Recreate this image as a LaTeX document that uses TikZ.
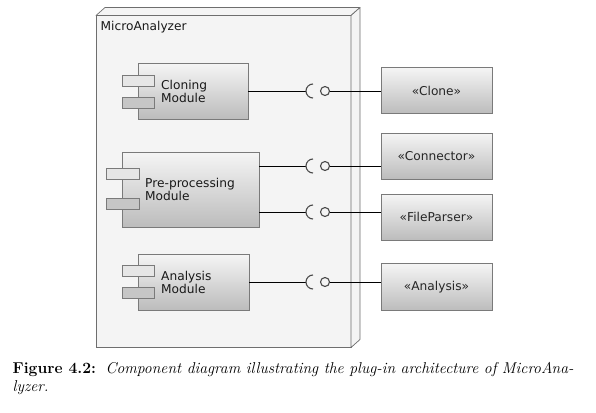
\documentclass[tikz,border=0pt]{standalone}
\usepackage{fontspec}
\setsansfont{DejaVu Sans}
\usetikzlibrary{calc}
\definecolor{boxtop}{HTML}{F5F5F5}
\definecolor{boxbot}{HTML}{BCBCBC}
\definecolor{edge}{HTML}{7A7A7A}
\definecolor{mainfill}{HTML}{F4F4F4}
\definecolor{mainedge}{HTML}{6E6E6E}
\definecolor{tabtop}{HTML}{E6E6E6}
\definecolor{tabbot}{HTML}{C6C6C6}
\definecolor{sockcol}{HTML}{4A4A4A}
\begin{document}
\begin{tikzpicture}[x=1pt,y=-1pt,
  dfont/.style={font=\sffamily\fontsize{12.2}{13}\selectfont},
  comp/.style={draw=edge, line width=0.7pt, top color=boxtop, bottom color=boxbot, inner sep=0pt, outer sep=0pt},
  iface/.style={draw=edge, line width=0.7pt, top color=boxtop, bottom color=boxbot, inner sep=0pt, outer sep=0pt, minimum width=111pt, dfont, text=black!85},
  tabA/.style={draw=edge, line width=0.6pt, fill=tabtop, inner sep=0pt, outer sep=0pt, minimum width=32pt, minimum height=11pt},
  tabB/.style={tabA, fill=tabbot},
  ball/.style={circle, draw=sockcol, line width=1.1pt, fill=mainfill, minimum size=9pt, inner sep=0pt, outer sep=0pt},
  sock/.style={draw=sockcol, line width=1.1pt},
  wire/.style={draw=black, line width=0.7pt},
  comptext/.style={dfont, align=left, anchor=west, text=black!90, inner sep=0pt},
  captext/.style={anchor=base west, inner sep=0pt, font=\fontsize{15.7}{19}\selectfont}
]
\useasboundingbox (0,0) rectangle (596,412);
\fill[white] (0,0) rectangle (596,412);

% main 3D box
\node[draw=mainedge, fill=mainfill, line width=0.7pt, minimum width=255pt, minimum height=332pt, inner sep=0pt, outer sep=0pt] (ma) at (223.5,181.5) {};
\filldraw[draw=mainedge, fill=mainfill, line width=0.7pt, line join=round]
  (ma.north west) -- ++(9,-8) -- ($(ma.north east)+(9,-8)$) -- (ma.north east) -- cycle;
\filldraw[draw=mainedge, fill=mainfill, line width=0.7pt, line join=round]
  (ma.north east) -- ++(9,-8) -- ($(ma.south east)+(9,-8)$) -- (ma.south east) -- cycle;
\node[dfont, anchor=west, inner sep=0pt, text=black!90] (malabel) at (100.5,27) {MicroAnalyzer};

% components
\node[comp, minimum width=110pt, minimum height=56pt] (clon) at (193,91) {};
\node[tabA] (clonA) at (138,80.5) {};
\node[tabB] (clonB) at (138,102.5) {};
\node[comptext] (clonT) at (161,91.5) {Cloning\\Module};

\node[comp, minimum width=137pt, minimum height=75pt] (pre) at (190.5,189.5) {};
\node[tabA, minimum width=33pt] (preA) at (122.5,174) {};
\node[tabB, minimum width=33pt] (preB) at (122.5,203.5) {};
\node[comptext] (preT) at (145,189) {Pre-processing\\Module};

\node[comp, minimum width=111pt, minimum height=56pt] (ana) at (193.5,282) {};
\node[tabA] (anaA) at (138,270.5) {};
\node[tabB] (anaB) at (138,292.5) {};
\node[comptext] (anaT) at (161,282) {Analysis\\Module};

% interfaces
\node[iface, minimum height=46pt] (clone) at (436.5,90.5) {«Clone»};
\node[iface, minimum height=46pt] (conn) at (436.5,156) {«Connector»};
\node[iface, minimum height=46pt] (fpar) at (436.5,217) {«FileParser»};
\node[iface, minimum height=47pt] (anai) at (436.5,287) {«Analysis»};

% sockets (centres) and balls
\coordinate (s1) at (313,91);
\coordinate (s2) at (313,166);
\coordinate (s3) at (313,212);
\coordinate (s4) at (313,282);
\foreach \s/\b/\c/\t in {s1/b1/clon/clone, s2/b2/pre/conn, s3/b3/pre/fpar, s4/b4/ana/anai}{
  \draw[wire] (\c.east |- \s) -- ([xshift=-7pt]\s);
  \draw[sock] ([yshift=7pt]\s) arc[start angle=90, end angle=270, radius=7pt];
  \node[ball] (\b) at ([xshift=12pt]\s) {};
  \draw[wire] (\b.east) -- (\t.west |- \b);
}

% caption
\node[captext] (cap1) at (12.5,373)
  {\textbf{Figure 4.2:}\ \ \textit{Component diagram illustrating the plug-in architecture of MicroAna-}};
\node[captext] (cap2) at (12.5,391.5) {\textit{lyzer.}};
\end{tikzpicture}
\end{document}
